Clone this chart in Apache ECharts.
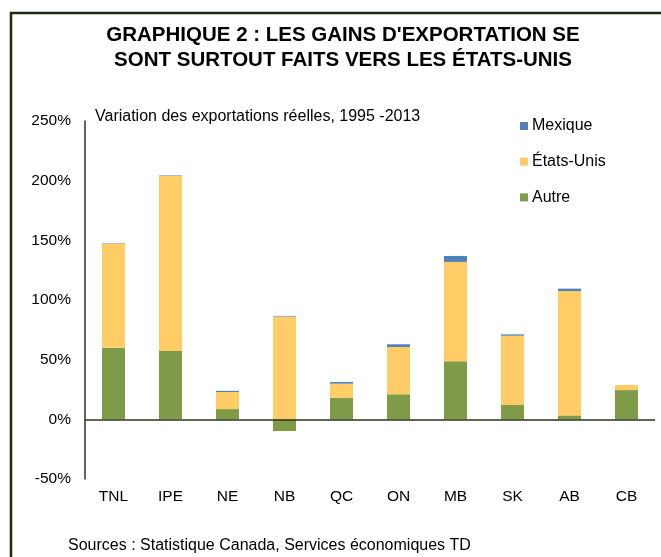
<!DOCTYPE html>
<html>
<head>
<meta charset="utf-8">
<script src="https://cdn.jsdelivr.net/npm/echarts@6/dist/echarts.min.js"></script>
<style>
  html, body { margin: 0; padding: 0; background: #fff; }
  #chart { width: 661px; height: 557px; }
</style>
</head>
<body>
<div id="chart"></div>
<script>
// provinces
var provinces = ['TNL', 'IPE', 'NE', 'NB', 'QC', 'ON', 'MB', 'SK', 'AB', 'CB'];

// variation des exportations réelles 1995-2013, en points de %
var autre     = [60, 57.2, 8.6, -9.8, 18.1, 21, 48.6, 12, 3.3, 24.5];
var etatsUnis = [87.3, 147, 14.3, 86.2, 11.8, 39.6, 83.3, 58.1, 104.2, 4.3];
var mexique   = [0.3, 0.4, 1, 0.5, 1.4, 2.3, 5, 1.1, 2, 0];

var yTicks = [-50, 0, 50, 100, 150, 200, 250];

var police = '"Liberation Sans", Arial, sans-serif';
var couleurAxe = '#2a3318';

var chart = echarts.init(document.getElementById('chart'));

var option = {
    animation: false,
    textStyle: { fontFamily: police },
    title: [
        {
            text: "GRAPHIQUE 2 : LES GAINS D'EXPORTATION SE\nSONT SURTOUT FAITS VERS LES ÉTATS-UNIS",
            left: 338,
            top: 18,
            textAlign: 'center',
            textStyle: { fontFamily: police, fontSize: 20.5, fontWeight: 'bold', color: '#000', lineHeight: 25 }
        },
        {
            text: 'Variation des exportations réelles, 1995 -2013',
            left: 90,
            top: 104,
            textStyle: { fontFamily: police, fontSize: 16, fontWeight: 'normal', color: '#000', lineHeight: 16 }
        },
        {
            text: 'Sources : Statistique Canada, Services économiques TD',
            left: 63,
            top: 533,
            textStyle: { fontFamily: police, fontSize: 16, fontWeight: 'normal', color: '#000', lineHeight: 16 }
        }
    ],
    graphic: [
        {
            // cadre
            type: 'polyline',
            shape: { points: [[11, 600], [11, 13], [700, 13]] },
            style: { stroke: '#1f2a10', lineWidth: 2.5, fill: null }
        }
    ],
    legend: {
        orient: 'vertical',
        left: 515,
        top: 113,
        icon: 'rect',
        itemWidth: 8,
        itemHeight: 8,
        itemGap: 19.7,
        data: ['Mexique', 'États-Unis', 'Autre'],
        textStyle: { fontFamily: police, fontSize: 16, color: '#000', lineHeight: 16, padding: [0, 0, 0, -1] }
    },
    grid: { left: 85, right: 6, top: 121, bottom: 78 },
    xAxis: {
        type: 'category',
        data: provinces,
        axisLine: { show: false },
        axisTick: { show: false },
        axisLabel: { fontFamily: police, fontSize: 15.5, color: '#000', margin: 10 }
    },
    yAxis: {
        type: 'value',
        min: yTicks[0],
        max: yTicks[yTicks.length - 1],
        interval: 50,
        axisLine: { show: true, lineStyle: { color: couleurAxe, width: 1.5 } },
        axisTick: { show: false },
        splitLine: { show: false },
        axisLabel: {
            fontFamily: police,
            fontSize: 15.5,
            color: '#000',
            margin: 14,
            formatter: function (v) { return v + '%'; }
        }
    },
    series: [
        {
            name: 'Autre',
            type: 'bar',
            stack: 'total',
            barWidth: 23,
            data: autre,
            itemStyle: { color: '#7f9b48' },
            markLine: {
                silent: true,
                symbol: 'none',
                label: { show: false },
                lineStyle: { color: couleurAxe, width: 1.5, type: 'solid' },
                data: [{ yAxis: 0 }]
            },
            z: 1
        },
        {
            name: 'États-Unis',
            type: 'bar',
            stack: 'total',
            barWidth: 23,
            data: etatsUnis,
            itemStyle: { color: '#ffcc66' }
        },
        {
            name: 'Mexique',
            type: 'bar',
            stack: 'total',
            barWidth: 23,
            data: mexique,
            itemStyle: { color: '#4f81bd' }
        }
    ]
};

chart.setOption(option);
</script>
</body>
</html>
